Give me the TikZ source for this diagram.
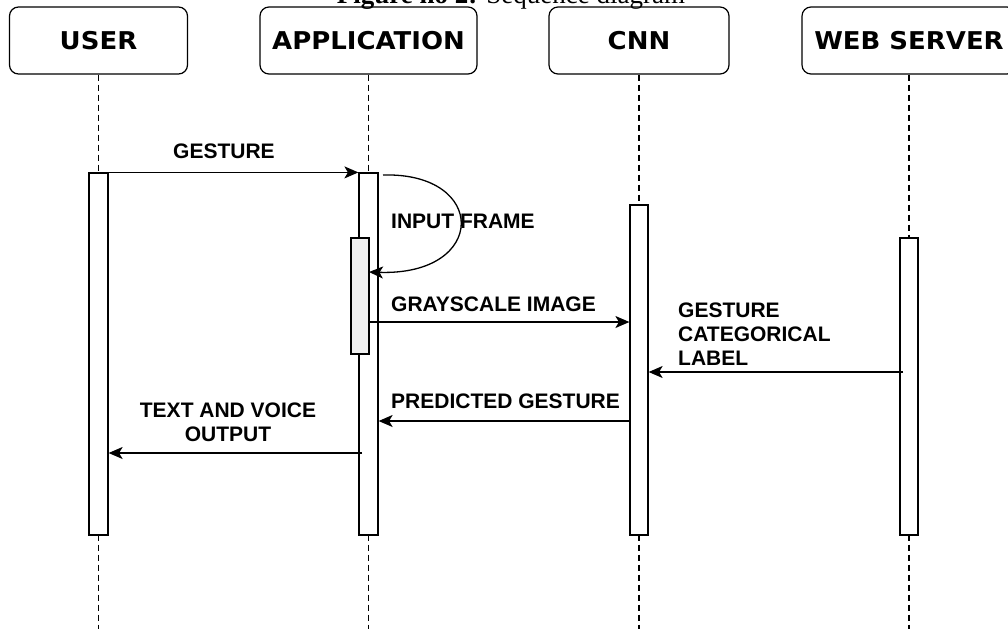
\documentclass[tikz,border=0pt]{standalone}
\usepackage{fontspec}
\setmainfont{Liberation Sans}
\newfontfamily\hdfont[FakeStretch=1.06]{DejaVu Sans}
\newfontfamily\capfont{Liberation Serif}
\usetikzlibrary{arrows.meta}
\begin{document}
\begin{tikzpicture}[x=1pt,y=-1pt,
  head/.style={draw,line width=1.2pt,rounded corners=9pt,minimum height=67pt,inner sep=0pt,
    font=\hdfont\bfseries\fontsize{24.5}{28}\selectfont},
  actbar/.style={draw,line width=1.2pt,fill=white,inner sep=0pt,minimum width=19pt},
  life/.style={line width=1.1pt,dash pattern=on 6pt off 4pt},
  msg/.style={line width=1.3pt,-{Stealth[length=14pt,width=12pt,inset=3.5pt]}},
  lbl/.style={inner sep=0pt,font=\bfseries\fontsize{21}{24}\selectfont},
]
\useasboundingbox (0,0) rectangle (1008,629);
\fill[white] (0,0) rectangle (1008,629);

% caption (cut off at the top, as in the reference)
\node[anchor=base,inner sep=0pt,font=\capfont\fontsize{27}{30}\selectfont] (cap) at (511,3)
  {\textbf{Figure no 2:} Sequence diagram};

% headers
\node[head,minimum width=178pt] (user) at (98.5,40.5) {USER};
\node[head,minimum width=217pt] (app)  at (368.5,40.5) {APPLICATION};
\node[head,minimum width=180pt] (cnn)  at (639,40.5) {CNN};
\node[head,minimum width=214pt] (web)  at (909,40.5) {WEB SERVER};

% lifeline ends
\coordinate (uend) at (98.5,629);
\coordinate (aend) at (368.5,629);
\coordinate (cend) at (639,629);
\coordinate (wend) at (909,629);

\draw[life] (user.south) -- (uend);
\draw[life] (app.south) -- (aend);
\draw[life] (cnn.south) -- (cend);
\draw[life] (web.south) -- (wend);

% activation bars
\node[actbar,minimum height=362pt] (ubar) at (98.5,354) {};
\node[actbar,minimum height=362pt] (abar) at (368.5,354) {};
\node[actbar,minimum width=18pt,minimum height=116pt,fill=black!6] (ainner) at (360,296) {};
\node[actbar,minimum width=18pt,minimum height=330pt] (cbar) at (639,370) {};
\node[actbar,minimum width=18pt,minimum height=297pt] (wbar) at (909,386.5) {};

% message coordinates
\coordinate (ls) at (383,175);
\coordinate (le) at (369,272);
\coordinate (gs) at (369,322);
\coordinate (ws) at (903,372);
\coordinate (ts) at (362,453);

% messages
\draw[msg] (ubar.north east) -- (abar.north west);
\draw[msg] (ls) .. controls (488,172) and (488,276) .. (le);
\draw[msg] (gs) -- (cbar.west |- gs);
\draw[msg] (ws) -- (cbar.east |- ws);
\draw[msg] (cbar.west |- 0,421) -- (abar.east |- 0,421);
\draw[msg] (ts) -- (ubar.east |- ts);

% labels
\node[lbl,anchor=base west] (lgest) at (173,158) {GESTURE};
\node[lbl,anchor=base west] (linput) at (391,228) {INPUT FRAME};
\node[lbl,anchor=base west] (lgray) at (391,311) {GRAYSCALE IMAGE};
\node[lbl,anchor=north west,align=left] (lcat) at (678,303) {GESTURE\\CATEGORICAL\\LABEL};
\node[lbl,anchor=base west] (lpred) at (391,408) {PREDICTED GESTURE};
\node[lbl,anchor=north,align=center] (ltext) at (228,403) {TEXT AND VOICE\\OUTPUT};
\end{tikzpicture}
\end{document}
